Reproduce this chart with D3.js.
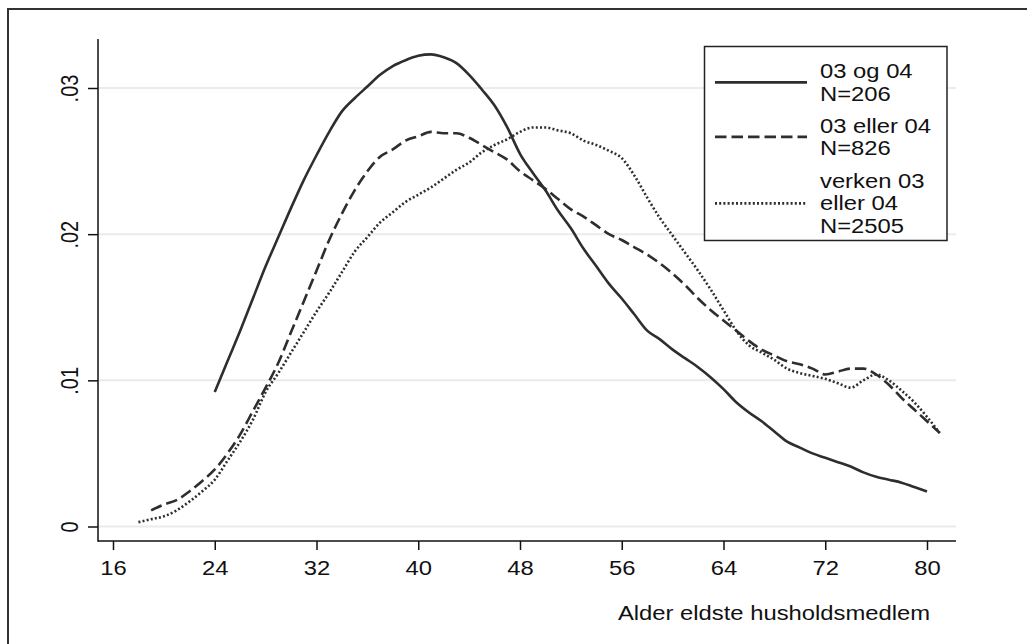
<!DOCTYPE html>
<html>
<head>
<meta charset="utf-8">
<script src="https://cdn.jsdelivr.net/npm/d3@7"></script>
<style>
  body { margin: 0; background: #fff; }
  text { font-family: "Liberation Sans", Arial, sans-serif; fill: #111; }
</style>
</head>
<body>
<script>
const width = 1027;
const height = 644;

// kernel density estimates
const ogAges = d3.range(24, 81);
const ogValues = [
  0.0092, 0.0113, 0.0134, 0.0156, 0.0178, 0.0198, 0.0218, 0.0237, 0.0254, 0.0270,
  0.0284, 0.0293, 0.0301, 0.0309, 0.0315, 0.0319, 0.0322, 0.0323, 0.0321, 0.0317,
  0.0309, 0.0299, 0.0288, 0.0273, 0.0255, 0.0242, 0.0230, 0.0216, 0.0204, 0.0190,
  0.0178, 0.0166, 0.0156, 0.0145, 0.0134, 0.0128, 0.0121, 0.0115, 0.0109, 0.0102,
  0.0094, 0.0085, 0.0078, 0.0072, 0.0065, 0.0058, 0.0054, 0.0050, 0.0047, 0.0044,
  0.0041, 0.0037, 0.0034, 0.0032, 0.0030, 0.0027, 0.0024
];
const ellerAges = d3.range(19, 82);
const ellerValues = [
  0.0011, 0.0015, 0.0018, 0.0024, 0.0031, 0.0039, 0.0050, 0.0063, 0.0079, 0.0095,
  0.0112, 0.0133, 0.0154, 0.0175, 0.0196, 0.0214, 0.0230, 0.0243, 0.0253, 0.0258,
  0.0264, 0.0267, 0.0270, 0.0269, 0.0269, 0.0266, 0.0261, 0.0256, 0.0251, 0.0243,
  0.0237, 0.0231, 0.0224, 0.0217, 0.0212, 0.0206, 0.0200, 0.0196, 0.0191, 0.0186,
  0.0180, 0.0173, 0.0165, 0.0156, 0.0148, 0.0141, 0.0134, 0.0127, 0.0121, 0.0117,
  0.0113, 0.0111, 0.0108, 0.0104, 0.0106, 0.0108, 0.0108, 0.0104, 0.0097, 0.0088,
  0.0080, 0.0072, 0.0064
];
const verkenAges = d3.range(18, 82);
const verkenValues = [
  0.0003, 0.0005, 0.0007, 0.0011, 0.0017, 0.0024, 0.0032, 0.0045, 0.0058, 0.0073,
  0.0092, 0.0105, 0.0119, 0.0133, 0.0147, 0.0160, 0.0174, 0.0188, 0.0198, 0.0208,
  0.0215, 0.0222, 0.0227, 0.0232, 0.0238, 0.0244, 0.0249, 0.0256, 0.0261, 0.0265,
  0.0270, 0.0273, 0.0273, 0.0271, 0.0269, 0.0264, 0.0261, 0.0257, 0.0252, 0.0240,
  0.0225, 0.0211, 0.0199, 0.0187, 0.0175, 0.0162, 0.0148, 0.0134, 0.0124, 0.0119,
  0.0114, 0.0108, 0.0105, 0.0103, 0.0101, 0.0098, 0.0095, 0.0100, 0.0104, 0.0100,
  0.0093, 0.0085, 0.0075, 0.0064
];

const xTicks = [16, 24, 32, 40, 48, 56, 64, 72, 80];
const yTicks = [0, 0.01, 0.02, 0.03];
const yTickLabels = ["0", ".01", ".02", ".03"];
const legendLabels = [
  ["03 og 04", "N=206"],
  ["03 eller 04", "N=826"],
  ["verken 03", "eller 04", "N=2505"]
];
const xTitle = "Alder eldste husholdsmedlem";

const stretch = "scale(1.19,1)"; // the original picture is a bit wide
const ink = "#2e2e2e";
const dashes = [null, "11.5,5", "2,2.2"];

const svg = d3
  .select("body")
  .append("svg")
  .attr("width", width)
  .attr("height", height);

// frame round the whole graph (right and bottom sit outside the picture)
svg
  .append("rect")
  .attr("x", 8)
  .attr("y", 9)
  .attr("width", 1040)
  .attr("height", 660)
  .attr("fill", "none")
  .attr("stroke", "#333")
  .attr("stroke-width", 2);

const plot = { left: 98, right: 956, top: 39, bottom: 541 };

const x = d3.scaleLinear().domain([16, 80]).range([113, 927]);
const y = d3.scaleLinear().domain([0, 0.03]).range([526.5, 88]);

// grid
svg
  .append("g")
  .selectAll("line")
  .data(yTicks)
  .join("line")
  .attr("x1", plot.left)
  .attr("x2", plot.right)
  .attr("y1", d => y(d))
  .attr("y2", d => y(d))
  .attr("stroke", "#ebebeb")
  .attr("stroke-width", 2);

// axes
const xAxis = svg
  .append("g")
  .attr("transform", `translate(0,${plot.bottom})`)
  .call(d3.axisBottom(x).tickValues(xTicks).tickSize(9).tickSizeOuter(0));
xAxis.select(".domain").remove();
xAxis.selectAll(".tick line").attr("stroke", "#111").attr("stroke-width", 1.5);
xAxis
  .selectAll(".tick text")
  .attr("y", 0)
  .attr("dy", 0)
  .attr("transform", `translate(0,34) ${stretch}`)
  .attr("font-size", 20)
  .attr("font-family", null);

const yAxis = svg
  .append("g")
  .attr("transform", `translate(${plot.left},0)`)
  .call(
    d3
      .axisLeft(y)
      .tickValues(yTicks)
      .tickFormat((d, i) => yTickLabels[i])
      .tickSize(10)
      .tickSizeOuter(0)
  );
yAxis.select(".domain").remove();
yAxis.selectAll(".tick line").attr("stroke", "#111").attr("stroke-width", 1.5);
yAxis
  .selectAll(".tick text")
  .attr("x", 0)
  .attr("dy", 0)
  .attr("text-anchor", "middle")
  .attr("transform", `translate(-20,0) ${stretch} rotate(-90)`)
  .attr("font-size", 20)
  .attr("font-family", null);

svg
  .append("line")
  .attr("x1", plot.left)
  .attr("x2", plot.left)
  .attr("y1", plot.top)
  .attr("y2", plot.bottom + 0.75)
  .attr("stroke", "#111")
  .attr("stroke-width", 1.5);
svg
  .append("line")
  .attr("x1", plot.left)
  .attr("x2", plot.right)
  .attr("y1", plot.bottom)
  .attr("y2", plot.bottom)
  .attr("stroke", "#111")
  .attr("stroke-width", 1.5);

svg
  .append("text")
  .attr("text-anchor", "end")
  .attr("transform", `translate(930,620) ${stretch}`)
  .attr("font-size", 20)
  .text(xTitle);

// density curves
const line = d3
  .line()
  .x(d => x(d[0]))
  .y(d => y(d[1]))
  .curve(d3.curveMonotoneX);

const series = [
  d3.zip(ogAges, ogValues),
  d3.zip(ellerAges, ellerValues),
  d3.zip(verkenAges, verkenValues)
];

series.forEach((points, i) => {
  svg
    .append("path")
    .datum(points)
    .attr("d", line)
    .attr("fill", "none")
    .attr("stroke", ink)
    .attr("stroke-width", 2.6)
    .attr("stroke-dasharray", dashes[i]);
});

// legend
const legend = svg.append("g");
legend
  .append("rect")
  .attr("x", 704.5)
  .attr("y", 46.5)
  .attr("width", 242.5)
  .attr("height", 194)
  .attr("fill", "#fff")
  .attr("stroke", "#222")
  .attr("stroke-width", 1.5);

const firstBaselines = [78, 132.5, 187.5];
const lineGap = 22.8;

legendLabels.forEach((lines, i) => {
  const top = firstBaselines[i];
  const mid = top - 14 + (14 + (lines.length - 1) * lineGap) / 2;
  legend
    .append("line")
    .attr("x1", 715)
    .attr("x2", 807)
    .attr("y1", mid)
    .attr("y2", mid)
    .attr("stroke", ink)
    .attr("stroke-width", 2.8)
    .attr("stroke-dasharray", dashes[i]);
  lines.forEach((t, j) => {
    legend
      .append("text")
      .attr("transform", `translate(820,${top + j * lineGap}) ${stretch}`)
      .attr("font-size", 20)
      .text(t);
  });
});
</script>
</body>
</html>
